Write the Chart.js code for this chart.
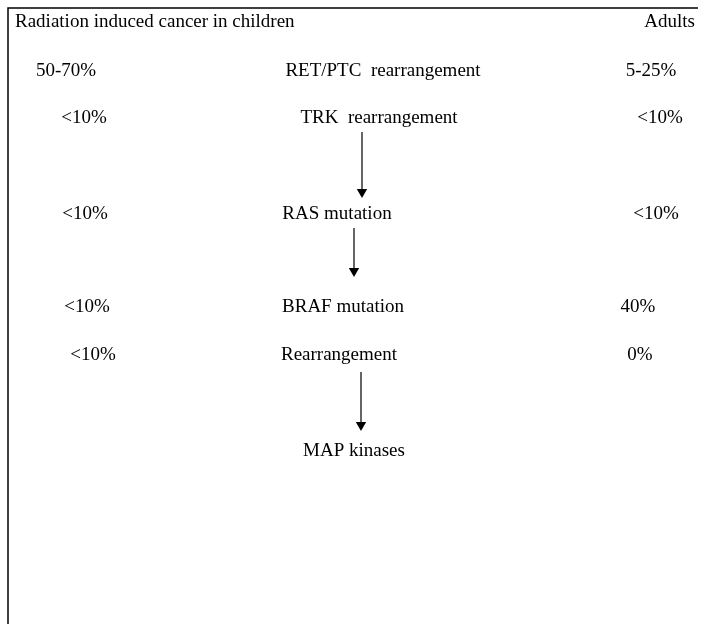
<!DOCTYPE html>
<html>
<head>
<meta charset="utf-8">
<script src="https://cdn.jsdelivr.net/npm/chart.js@4.4.1/dist/chart.umd.min.js"></script>
<style>
    html, body { margin: 0; padding: 0; background: #ffffff; }
    canvas { display: block; }
</style>
</head>
<body>
<canvas id="PathwayChart" width="710" height="624"></canvas>
<script>
// Chart data
const headerLeft = 'Radiation induced cancer in children';
const headerRight = 'Adults';
const steps = ['RET/PTC  rearrangement', 'TRK  rearrangement', 'RAS mutation', 'BRAF mutation', 'Rearrangement', 'MAP kinases'];
const childrenPct = ['50-70%', '<10%', '<10%', '<10%', '<10%', ''];
const adultPct = ['5-25%', '<10%', '<10%', '40%', '0%', ''];
const arrowLinks = [[1, 2], [2, 3], [4, 5]]; // from step -> to step

// Layout (coordinates on the 710 x 624 value grid)
const headerY = 22;
const rowY = [71, 118, 214, 307, 355, 451];
const stepX = [383, 379, 337, 343, 339, 354];
const childX = [66, 84, 85, 87, 93, 0];
const adultX = [651, 660, 656, 638, 640, 0];
const arrowX = [362, 354, 361];
const arrowTop = [132, 228, 372];
const arrowBottom = [198, 277, 431];
const headRadius = 6;

// Build arrow datasets from the links
const arrowDatasets = arrowLinks.map((link, i) => ({
    label: steps[link[0]] + ' -> ' + steps[link[1]],
    data: [
        { x: arrowX[i], y: arrowTop[i] },
        { x: arrowX[i], y: arrowBottom[i] - headRadius }
    ],
    borderColor: '#000000',
    borderWidth: 1.2,
    backgroundColor: '#000000',
    pointBackgroundColor: '#000000',
    pointBorderColor: '#000000',
    pointBorderWidth: 0,
    pointStyle: 'triangle',
    pointRotation: [0, 180],
    pointRadius: [0, headRadius],
    showLine: true,
    fill: false,
    tension: 0
}));

// Draw the box and all texts in data coordinates
const textPlugin = {
    id: 'textPlugin',
    afterDatasetsDraw(chart) {
        const ctx = chart.ctx;
        const xs = chart.scales.x;
        const ys = chart.scales.y;
        const px = v => xs.getPixelForValue(v);
        const py = v => ys.getPixelForValue(v);

        ctx.save();
        // frame (left and top edges)
        ctx.strokeStyle = '#000000';
        ctx.lineWidth = 1.5;
        ctx.beginPath();
        ctx.moveTo(px(8), py(624));
        ctx.lineTo(px(8), py(8));
        ctx.lineTo(px(698), py(8));
        ctx.stroke();

        ctx.fillStyle = '#000000';
        ctx.font = '19px "Liberation Serif", "Times New Roman", serif';
        ctx.textBaseline = 'middle';

        ctx.textAlign = 'left';
        ctx.fillText(headerLeft, px(15), py(headerY));
        ctx.textAlign = 'right';
        ctx.fillText(headerRight, px(695), py(headerY));

        ctx.textAlign = 'center';
        steps.forEach((s, i) => {
            ctx.fillText(s, px(stepX[i]), py(rowY[i]));
            if (childrenPct[i]) ctx.fillText(childrenPct[i], px(childX[i]), py(rowY[i]));
            if (adultPct[i]) ctx.fillText(adultPct[i], px(adultX[i]), py(rowY[i]));
        });
        ctx.restore();
    }
};

const ctx = document.getElementById('PathwayChart').getContext('2d');
new Chart(ctx, {
    type: 'scatter',
    data: { datasets: arrowDatasets },
    options: {
        responsive: false,
        animation: false,
        layout: { padding: 0, autoPadding: false },
        plugins: {
            legend: { display: false },
            tooltip: { enabled: false }
        },
        scales: {
            x: { type: 'linear', min: 0, max: 710, display: false },
            y: { type: 'linear', min: 0, max: 624, reverse: true, display: false }
        }
    },
    plugins: [textPlugin]
});
</script>
</body>
</html>
